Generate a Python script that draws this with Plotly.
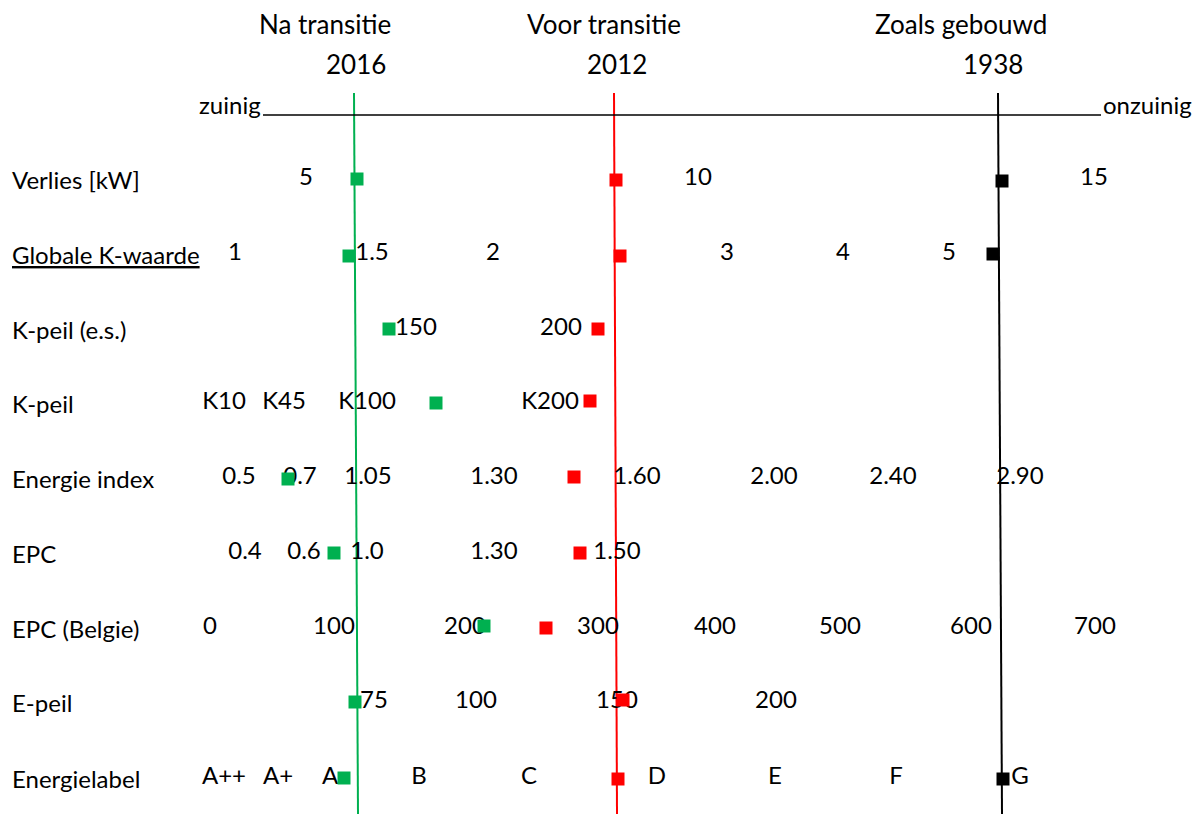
import plotly.graph_objects as go

FONT = "Lato"
BODY = 24
HEAD = 26

# ---- data: rows of the comparison diagram (zuinig -> onzuinig axis) ----
rows = ["Verlies [kW]", "<u>Globale K-waarde</u>", "K-peil (e.s.)", "K-peil",
        "Energie index", "EPC", "EPC (Belgie)", "E-peil", "Energielabel"]
row_y = [179, 254, 329, 403, 478, 553, 628, 702, 778]

verlies_ticks = ["5", "10", "15"]
verlies_pos = [306, 698, 1094]
kwaarde_ticks = ["1", "1.5", "2", "3", "4", "5"]
kwaarde_pos = [235, 372, 493, 727, 843, 949]
kpeil_es_ticks = ["150", "200"]
kpeil_es_pos = [416, 561]
kpeil_ticks = ["K10", "K45", "K100", "K200"]
kpeil_pos = [224, 284, 367, 550]
eindex_ticks = ["0.5", "0.7", "1.05", "1.30", "1.60", "2.00", "2.40", "2.90"]
eindex_pos = [239, 300, 368, 494, 637, 774, 893, 1020]
epc_ticks = ["0.4", "0.6", "1.0", "1.30", "1.50"]
epc_pos = [245, 304, 367, 494, 617]
epcbe_ticks = ["0", "100", "200", "300", "400", "500", "600", "700"]
epcbe_pos = [210, 334, 465, 598, 715, 840, 971, 1095]
epeil_ticks = ["75", "100", "150", "200"]
epeil_pos = [374, 476, 617, 776]
label_ticks = ["A++", "A+", "A", "B", "C", "D", "E", "F", "G"]
label_pos = [224, 278, 330, 419, 529, 657, 775, 896, 1020]

tick_sets = [
    (verlies_ticks, verlies_pos), (kwaarde_ticks, kwaarde_pos),
    (kpeil_es_ticks, kpeil_es_pos), (kpeil_ticks, kpeil_pos),
    (eindex_ticks, eindex_pos), (epc_ticks, epc_pos),
    (epcbe_ticks, epcbe_pos), (epeil_ticks, epeil_pos),
    (label_ticks, label_pos),
]

# scenario markers (position on the common axis per row; None = not shown)
scenarios = ["Na transitie", "Voor transitie", "Zoals gebouwd"]
years = ["2016", "2012", "1938"]
na_transitie = [357, 349, 389, 436, 288, 334, 484, 355, 344]
voor_transitie = [616, 620, 598, 590, 574, 580, 546, 623, 618]
zoals_gebouwd = [1002, 993, None, None, None, None, None, None, 1003]
na_marker_y = [179, 256, 329, 403, 479, 553, 626, 702, 778]
voor_marker_y = [180, 256, 329, 401, 477, 553, 628, 700, 779]
zoals_marker_y = [181, 254, None, None, None, None, None, None, 779]

# scenario reference lines (top, bottom)
na_line_x = [354, 358]
voor_line_x = [614, 617]
zoals_line_x = [998, 1002]
line_y = [93, 814]

title_x = [325, 604, 961]
year_x = [356, 617, 993]

colors = ["#00B050", "#FF0000", "#000000"]

fig = go.Figure()

# vertical scenario lines
for lx, c in zip([na_line_x, voor_line_x, zoals_line_x], colors):
    fig.add_trace(go.Scatter(x=lx, y=line_y, mode="lines",
                             line=dict(color=c, width=2), hoverinfo="skip"))

# zuinig / onzuinig axis line
fig.add_trace(go.Scatter(x=[263, 1101], y=[115, 115], mode="lines",
                         line=dict(color="black", width=1.3), hoverinfo="skip"))

# tick labels per row
for (labels, pos), y in zip(tick_sets, row_y):
    fig.add_trace(go.Scatter(x=pos, y=[y] * len(pos), mode="text", text=labels,
                             textposition="middle center", cliponaxis=False,
                             textfont=dict(family=FONT, size=BODY, color="black"),
                             hoverinfo="skip"))

# scenario markers
for xs, ys, c in zip([na_transitie, voor_transitie, zoals_gebouwd],
                     [na_marker_y, voor_marker_y, zoals_marker_y], colors):
    fig.add_trace(go.Scatter(x=xs, y=ys, mode="markers", cliponaxis=False,
                             marker=dict(symbol="square", size=13, color=c,
                                         line=dict(width=0)),
                             hoverinfo="skip"))

annotations = []
# headers
for t, x in zip(scenarios, title_x):
    annotations.append(dict(x=x, y=24, xref="x", yref="y", text=t,
                            showarrow=False, xanchor="center", yanchor="middle",
                            font=dict(family=FONT, size=HEAD, color="black")))
for t, x in zip(years, year_x):
    annotations.append(dict(x=x, y=64, xref="x", yref="y", text=t,
                            showarrow=False, xanchor="center", yanchor="middle",
                            font=dict(family=FONT, size=HEAD, color="black")))
# row names
for name, y in zip(rows, row_y):
    annotations.append(dict(x=10, y=y, xref="x", yref="y", text=name,
                            showarrow=False, xanchor="left", yanchor="middle",
                            font=dict(family=FONT, size=BODY, color="black")))
annotations.append(dict(x=263, y=104, xref="x", yref="y", text="zuinig",
                        showarrow=False, xanchor="right", yanchor="middle",
                        font=dict(family=FONT, size=BODY, color="black")))
annotations.append(dict(x=1101, y=104, xref="x", yref="y", text="onzuinig",
                        showarrow=False, xanchor="left", yanchor="middle",
                        font=dict(family=FONT, size=BODY, color="black")))

# the page body has an 8px margin; offset the ranges so diagram units = page pixels
OFF = 8
fig.update_layout(
    width=1203, height=814,
    margin=dict(l=0, r=0, t=0, b=0),
    paper_bgcolor="white", plot_bgcolor="white",
    showlegend=False,
    annotations=annotations,
    xaxis=dict(range=[OFF, 1203 + OFF], visible=False, fixedrange=True),
    yaxis=dict(range=[814 + OFF, OFF], visible=False, fixedrange=True),
)

fig.write_html("out.html")
